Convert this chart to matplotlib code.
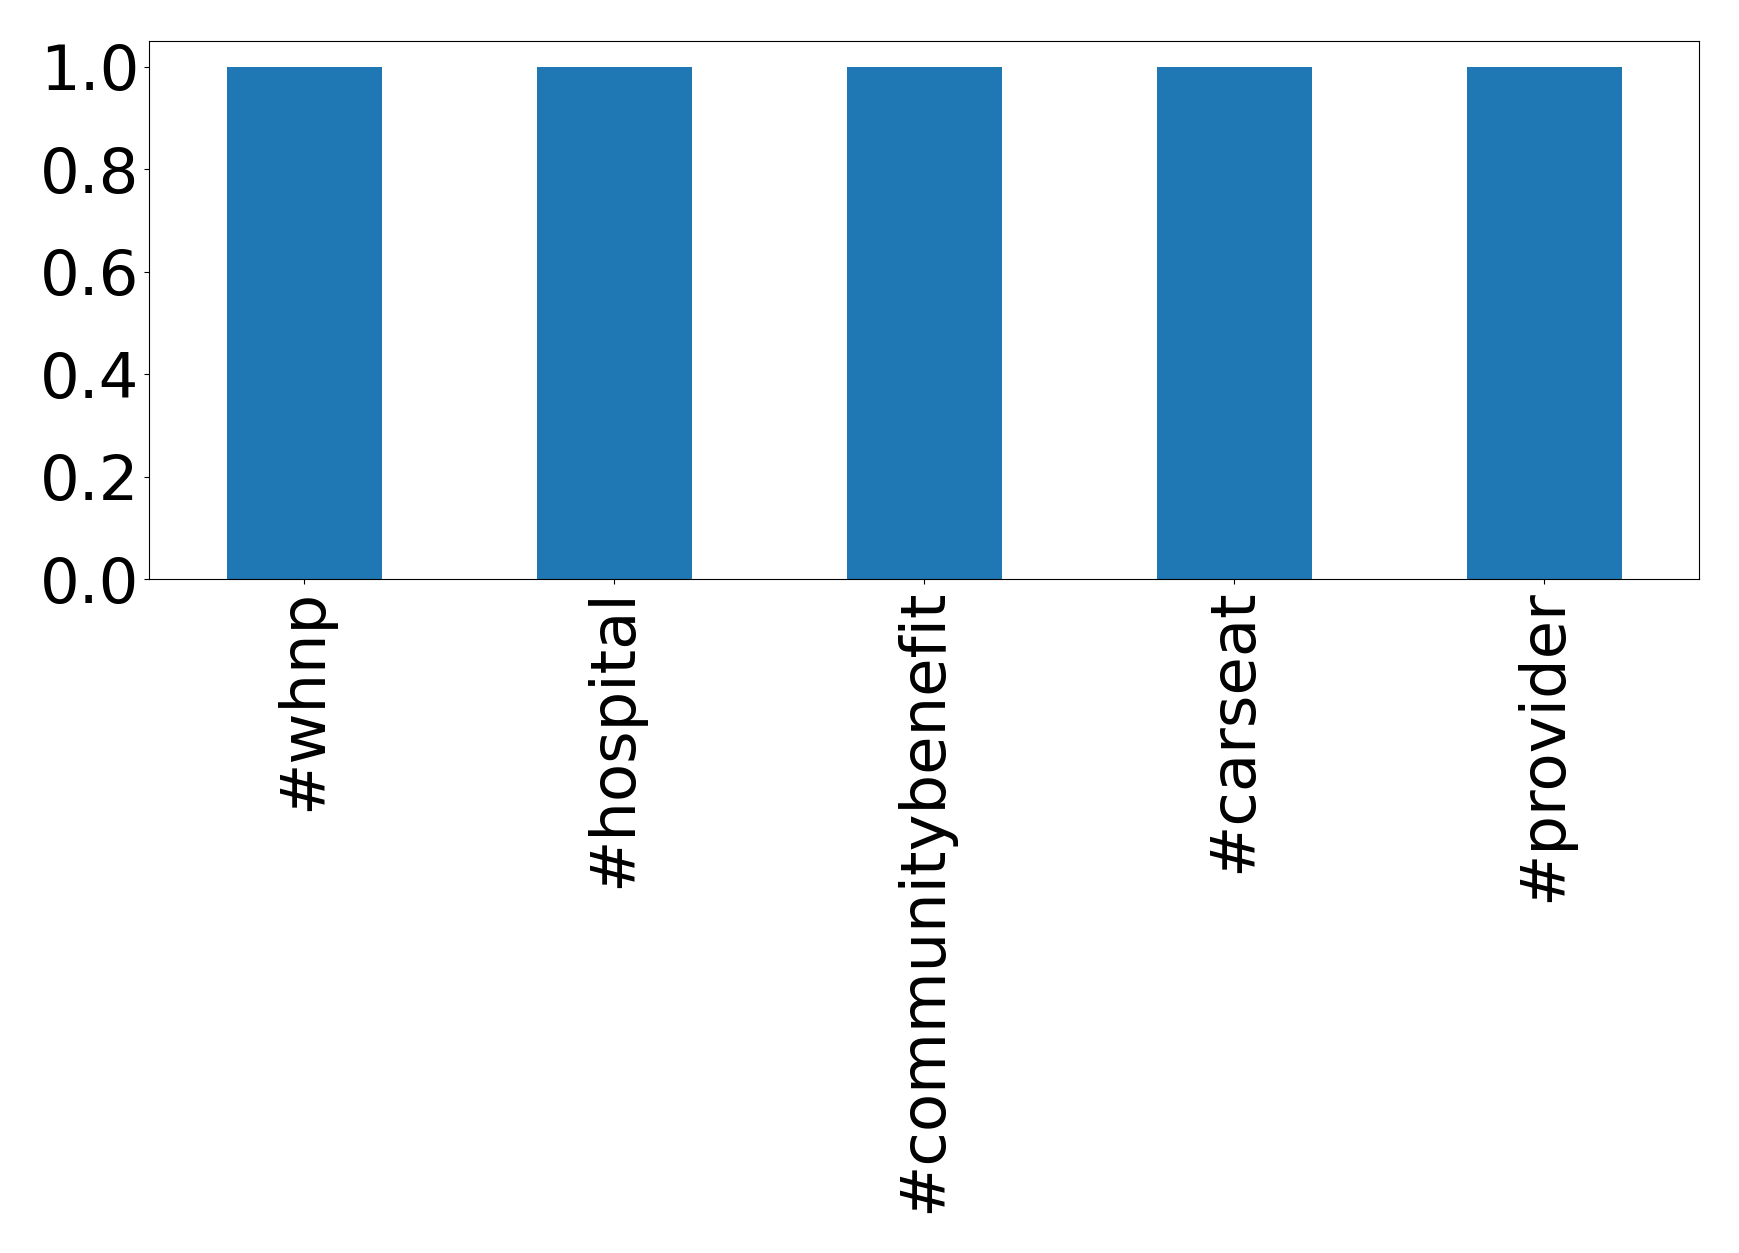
import matplotlib
matplotlib.use("Agg")
import matplotlib.pyplot as plt

hashtags = ["#whnp", "#hospital", "#communitybenefit", "#carseat", "#provider"]
counts = [1, 1, 1, 1, 1]
yticks = [0.0, 0.2, 0.4, 0.6, 0.8, 1.0]

fig = plt.figure(figsize=(17.39, 12.53), dpi=100)
ax = fig.add_axes([149 / 1739, 1 - 579 / 1253, (1699 - 149) / 1739, (579 - 41) / 1253])
pos = list(range(len(hashtags)))
ax.bar(pos, counts, width=0.5, color="#1f77b4")
ax.set_xlim(-0.5, len(hashtags) - 0.5)
ax.set_xticks(pos)
ax.set_xticklabels(hashtags, rotation=90)
ax.set_yticks(yticks)
ax.tick_params(labelsize=45)
fig.savefig("out.png", dpi=100)
